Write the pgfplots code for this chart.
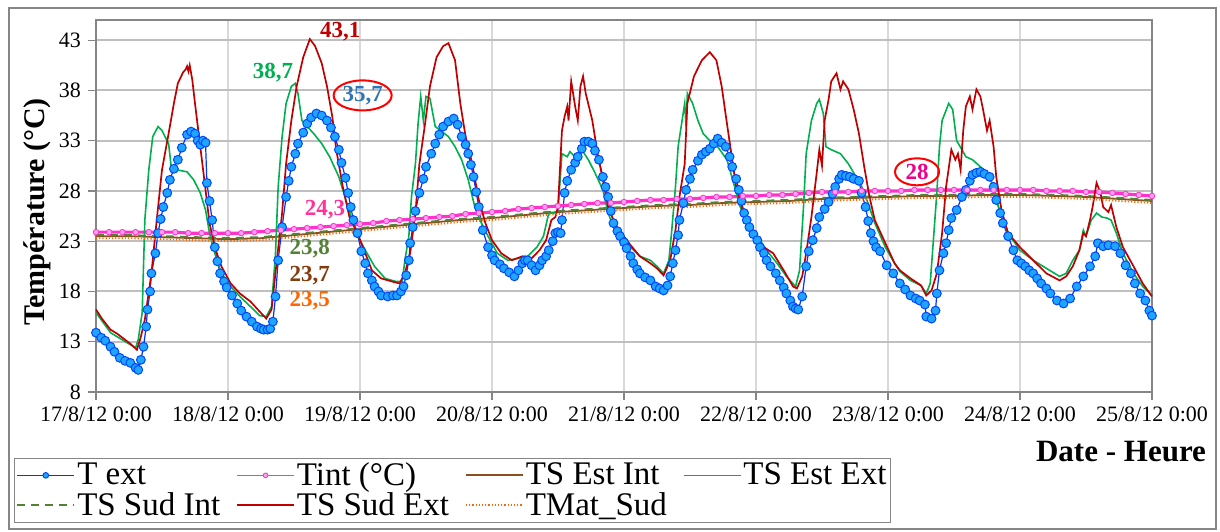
\documentclass[border=0pt]{standalone}
\usepackage{fontspec}
\setmainfont{Liberation Serif}
\usepackage{pgfplots}
\pgfplotsset{compat=1.18}
\usetikzlibrary{shapes.geometric}
\definecolor{textline}{RGB}{0,51,255}
\definecolor{textfill}{RGB}{30,165,255}
\definecolor{textmark}{RGB}{0,70,255}
\definecolor{tintc}{RGB}{255,51,204}
\definecolor{tintfill}{RGB}{255,160,240}
\definecolor{estint}{RGB}{140,80,30}
\definecolor{estext}{RGB}{0,176,80}
\definecolor{sudint}{RGB}{84,130,53}
\definecolor{sudext}{RGB}{192,0,0}
\definecolor{tmat}{RGB}{255,102,0}
\definecolor{gridh}{RGB}{191,191,191}
\definecolor{gridv}{RGB}{217,217,217}
\definecolor{axisc}{RGB}{134,134,134}
\definecolor{annblue}{RGB}{46,117,182}
\definecolor{annpink}{RGB}{255,51,153}
\definecolor{annbrown}{RGB}{132,60,12}
\begin{document}
\begin{tikzpicture}
\begin{axis}[name=ax, scale only axis, width=528pt, height=186pt,
  xmin=0, xmax=8, ymin=8, ymax=45, clip=false,
  xtick={0,...,8},
  xticklabels={17/8/12 0:00,18/8/12 0:00,19/8/12 0:00,20/8/12 0:00,21/8/12 0:00,22/8/12 0:00,23/8/12 0:00,24/8/12 0:00,25/8/12 0:00},
  ytick={8,13,...,43},
  grid=major,
  y grid style={color=gridh, line width=1pt},
  x grid style={color=gridv, line width=0.6pt},
  axis line style={color=axisc, line width=0.8pt},
  tick style={color=axisc, line width=0.6pt},
  tick align=outside, major tick length=4pt,
  xtick pos=bottom, ytick pos=left,
  ticklabel style={font=\fontsize{11}{13}\selectfont},
  /pgf/number format/assume math mode=true,
  xlabel={Date - Heure},
  xlabel style={at={(axis description cs:1.0578,-0.161)}, anchor=east, font=\bfseries\fontsize{15.5}{18}\selectfont},
  ylabel={Température (°C)},
  ylabel style={at={(axis description cs:-0.0559,0.484)}, anchor=center, font=\bfseries\fontsize{15}{18}\selectfont},
  legend columns=4, legend cell align=left,
  legend style={at={(axis description cs:-0.0777,-0.1774)}, anchor=north west, draw=axisc,
    font=\fontsize{16.5}{18}\selectfont, inner sep=1pt, nodes={inner sep=1pt},
    /tikz/every even column/.append style={column sep=7pt}},
  legend image code/.code={\draw[mark repeat=2,mark phase=2] plot coordinates {(0cm,0cm)(0.5cm,0cm)(1cm,0cm)};},
]
% T ext
\addplot[color=textline, line width=0.6pt, mark=*, mark size=2.2pt, mark options={fill=textfill, draw=textmark, line width=0.5pt}, legend image post style={mark size=1.4pt}] coordinates {
(0.00,13.9)(0.04,13.4)(0.07,13.1)(0.11,12.5)(0.14,12.0)(0.18,11.4)(0.22,11.1)(0.26,10.9)(0.30,10.4)(0.32,10.2)
(0.34,11.2)(0.36,12.5)(0.38,14.5)(0.39,16.2)(0.41,18.0)(0.42,19.8)(0.45,21.8)(0.47,23.8)(0.49,25.2)(0.51,26.4)
(0.54,27.8)(0.56,29.1)(0.59,30.2)(0.62,31.1)(0.65,32.3)(0.69,33.6)(0.72,33.9)(0.75,33.7)(0.77,33.0)(0.79,32.6)
(0.81,33.0)(0.83,32.8)(0.84,28.8)(0.86,27.0)(0.88,25.1)(0.90,22.4)(0.92,21.0)(0.94,19.8)(0.97,19.0)(0.99,18.4)
(1.03,17.6)(1.07,16.8)(1.10,16.1)(1.14,15.5)(1.18,15.0)(1.22,14.5)(1.25,14.3)(1.27,14.2)(1.30,14.2)(1.32,14.3)
(1.34,15.0)(1.36,17.5)(1.38,21.1)(1.41,24.4)(1.44,27.4)(1.46,29.0)(1.48,30.4)(1.51,31.7)(1.53,32.7)(1.57,33.8)
(1.60,34.7)(1.63,35.3)(1.67,35.7)(1.71,35.5)(1.75,35.0)(1.78,34.3)(1.81,33.4)(1.84,32.1)(1.86,30.8)(1.89,29.3)
(1.91,27.8)(1.93,26.4)(1.95,25.1)(1.98,23.8)(2.01,22.0)(2.04,20.8)(2.06,19.8)(2.09,19.1)(2.11,18.5)(2.14,18.0)
(2.16,17.6)(2.21,17.5)(2.25,17.6)(2.28,17.6)(2.31,18.0)(2.33,18.5)(2.35,19.6)(2.37,21.1)(2.38,22.8)(2.40,24.4)
(2.42,26.0)(2.45,27.8)(2.48,29.2)(2.50,30.4)(2.54,31.7)(2.57,32.7)(2.60,33.6)(2.63,34.4)(2.67,34.9)(2.71,35.2)
(2.74,34.6)(2.77,33.4)(2.80,32.6)(2.82,31.7)(2.84,30.6)(2.86,29.4)(2.88,27.9)(2.90,26.4)(2.93,24.1)(2.97,22.4)
(3.00,21.6)(3.02,21.1)(3.06,20.7)(3.09,20.3)(3.13,19.9)(3.17,19.5)(3.20,20.1)(3.23,20.8)(3.25,21.1)(3.27,21.1)
(3.30,20.6)(3.33,20.1)(3.36,20.6)(3.38,21.1)(3.41,21.5)(3.43,22.1)(3.46,23.0)(3.48,23.8)(3.50,23.9)(3.52,23.8)
(3.53,25.1)(3.55,27.8)(3.57,29.0)(3.60,30.1)(3.63,30.8)(3.65,31.4)(3.68,32.2)(3.70,32.9)(3.73,32.9)(3.76,32.7)
(3.78,32.0)(3.81,31.1)(3.84,29.4)(3.86,28.4)(3.88,27.4)(3.90,26.0)(3.92,24.8)(3.95,24.0)(3.97,23.5)(4.00,22.9)
(4.02,22.3)(4.05,21.5)(4.07,20.8)(4.10,20.2)(4.12,19.8)(4.16,19.4)(4.20,19.1)(4.24,18.5)(4.27,18.3)(4.30,18.1)
(4.33,18.6)(4.35,19.5)(4.37,20.8)(4.39,22.1)(4.41,23.6)(4.42,25.1)(4.45,26.8)(4.47,28.1)(4.50,29.2)(4.52,30.1)
(4.56,31.0)(4.59,31.6)(4.62,31.9)(4.65,32.2)(4.68,32.7)(4.71,33.2)(4.74,32.8)(4.77,32.4)(4.80,31.4)(4.82,30.4)
(4.85,29.2)(4.87,28.1)(4.89,27.0)(4.91,25.8)(4.93,25.1)(4.95,24.4)(4.98,23.7)(5.01,23.1)(5.03,22.4)(5.06,21.8)
(5.08,21.1)(5.11,20.5)(5.15,19.8)(5.18,19.1)(5.21,18.4)(5.23,17.8)(5.26,17.1)(5.28,16.5)(5.30,16.3)(5.32,16.2)
(5.35,17.5)(5.38,20.5)(5.40,22.0)(5.43,23.1)(5.46,24.3)(5.48,25.4)(5.52,26.2)(5.55,26.9)(5.58,27.7)(5.60,28.4)
(5.63,29.2)(5.65,29.6)(5.68,29.5)(5.71,29.4)(5.74,29.2)(5.78,29.0)(5.80,27.8)(5.83,26.4)(5.85,25.0)(5.87,23.8)
(5.89,23.0)(5.91,22.4)(5.94,22.0)(5.99,20.6)(6.04,19.8)(6.09,18.8)(6.13,18.2)(6.17,17.6)(6.21,17.3)(6.24,17.1)
(6.28,16.7)(6.29,15.5)(6.33,15.3)(6.36,16.1)(6.37,17.8)(6.39,20.1)(6.42,21.8)(6.44,22.8)(6.46,24.1)(6.48,25.3)
(6.52,26.1)(6.56,27.4)(6.59,28.1)(6.62,29.0)(6.64,29.6)(6.67,29.8)(6.70,29.9)(6.73,29.7)(6.77,29.4)(6.80,28.4)
(6.82,27.1)(6.85,25.8)(6.87,24.8)(6.91,23.5)(6.95,22.1)(6.98,21.1)(7.01,20.8)(7.04,20.5)(7.07,20.1)(7.10,19.8)
(7.13,19.3)(7.16,18.8)(7.20,18.3)(7.23,17.8)(7.28,17.1)(7.33,16.8)(7.38,17.3)(7.43,18.5)(7.48,19.5)(7.53,20.5)
(7.57,21.5)(7.59,22.8)(7.63,22.5)(7.67,22.6)(7.72,22.5)(7.76,21.8)(7.80,20.6)(7.84,19.8)(7.87,18.8)(7.91,17.8)
(7.95,17.1)(7.98,16.1)(8.00,15.6)
};
\addlegendentry{T ext}
% Tint
\addplot[color=tintc, line width=1.6pt, mark=*, mark size=1.4pt, mark options={fill=tintfill, draw=tintc, line width=0.4pt}, legend image post style={line width=0.6pt, mark size=1.2pt}] coordinates {
(0.0,23.9)(0.1,23.9)(0.2,23.9)(0.3,23.9)(0.4,23.9)(0.5,23.9)(0.6,23.9)(0.7,23.8)(0.8,23.8)(0.9,23.8)
(1.0,23.8)(1.1,23.8)(1.2,23.9)(1.3,24.0)(1.4,24.1)(1.5,24.2)(1.6,24.3)(1.7,24.4)(1.8,24.5)(1.9,24.6)
(2.0,24.7)(2.1,24.8)(2.2,25.0)(2.3,25.1)(2.4,25.2)(2.5,25.3)(2.6,25.4)(2.7,25.5)(2.8,25.7)(2.9,25.8)
(3.0,25.9)(3.1,26.0)(3.2,26.2)(3.3,26.3)(3.4,26.4)(3.5,26.5)(3.6,26.6)(3.7,26.7)(3.8,26.8)(3.9,26.8)
(4.0,26.9)(4.1,27.0)(4.2,27.1)(4.3,27.1)(4.4,27.2)(4.5,27.2)(4.6,27.3)(4.7,27.4)(4.8,27.4)(4.9,27.5)
(5.0,27.5)(5.1,27.6)(5.2,27.6)(5.3,27.7)(5.4,27.8)(5.5,27.9)(5.6,27.9)(5.7,27.9)(5.8,28.0)(5.9,28.0)
(6.0,28.0)(6.1,28.0)(6.2,28.1)(6.3,28.1)(6.4,28.1)(6.5,28.1)(6.6,28.1)(6.7,28.1)(6.8,28.1)(6.9,28.1)
(7.0,28.1)(7.1,28.1)(7.2,28.0)(7.3,28.0)(7.4,28.0)(7.5,27.9)(7.6,27.9)(7.7,27.8)(7.8,27.7)(7.9,27.6)
(8.0,27.5)
};
\addlegendentry{Tint (°C)}
% TS Est Int
\addplot[color=estint, line width=0.9pt] coordinates {
(0,23.5)(0.25,23.5)(0.5,23.4)(0.75,23.3)(1,23.2)(1.25,23.3)(1.5,23.6)(1.75,23.9)(2,24.2)(2.25,24.5)(2.5,24.8)
(2.75,25.1)(3,25.3)(3.25,25.6)(3.5,25.9)(3.75,26.1)(4,26.3)(4.25,26.5)(4.5,26.6)(4.75,26.8)(5,26.9)(5.25,27.0)
(5.5,27.2)(5.75,27.3)(6,27.4)(6.25,27.5)(6.5,27.5)(6.75,27.6)(7,27.6)(7.25,27.5)(7.5,27.4)(7.75,27.2)(8,27.0)
};
\addlegendentry{TS Est Int}
% TS Est Ext
\addplot[color=estext, line width=0.8pt] coordinates {
(0.00,15.9)(0.11,13.9)(0.21,13.1)(0.30,12.4)(0.32,13.2)(0.35,15.9)(0.37,25.1)(0.40,30.1)(0.43,33.4)(0.47,34.4)
(0.50,34.0)(0.55,32.7)(0.57,30.4)(0.61,30.1)(0.69,29.9)(0.74,29.1)(0.79,27.8)(0.83,26.1)(0.86,23.8)(0.90,21.8)
(0.95,19.8)(1.02,18.5)(1.09,17.5)(1.17,16.5)(1.24,15.6)(1.29,15.5)(1.33,16.5)(1.36,21.8)(1.38,28.4)(1.41,33.4)
(1.44,36.7)(1.48,38.4)(1.51,38.7)(1.53,37.7)(1.56,35.0)(1.60,34.4)(1.65,33.7)(1.71,32.7)(1.77,31.4)(1.84,29.4)
(1.90,26.8)(1.95,24.8)(2.00,23.1)(2.04,22.1)(2.11,20.5)(2.19,19.3)(2.27,19.0)(2.32,19.0)(2.34,21.1)(2.37,23.5)
(2.39,27.4)(2.42,30.7)(2.44,34.7)(2.46,37.4)(2.48,35.0)(2.50,37.4)(2.53,37.2)(2.57,34.4)(2.62,33.9)(2.67,33.4)
(2.72,32.4)(2.77,31.1)(2.82,29.1)(2.87,26.4)(2.92,24.8)(2.97,23.5)(3.04,21.8)(3.12,21.1)(3.20,21.3)(3.27,21.5)
(3.34,22.4)(3.39,23.5)(3.43,25.8)(3.47,25.8)(3.50,26.1)(3.53,31.7)(3.57,31.4)(3.59,31.9)(3.63,31.4)(3.68,32.1)
(3.73,31.1)(3.78,29.8)(3.84,28.1)(3.88,25.8)(3.93,24.1)(3.99,23.1)(4.05,22.4)(4.12,21.5)(4.20,21.1)(4.25,20.5)
(4.30,19.8)(4.34,21.1)(4.36,23.8)(4.39,28.4)(4.41,32.4)(4.44,35.0)(4.46,36.7)(4.47,34.4)(4.48,37.7)(4.52,36.7)
(4.56,35.0)(4.60,33.7)(4.65,33.0)(4.71,32.4)(4.78,31.1)(4.83,28.8)(4.88,26.4)(4.94,24.8)(5.01,23.5)(5.08,22.1)
(5.16,20.8)(5.23,19.5)(5.30,18.5)(5.33,20.1)(5.36,26.4)(5.38,31.7)(5.42,35.0)(5.46,36.7)(5.48,37.1)(5.51,35.7)
(5.53,32.4)(5.57,32.1)(5.64,31.7)(5.70,30.7)(5.74,29.8)(5.79,28.8)(5.84,27.1)(5.90,24.8)(5.98,22.4)(6.05,20.8)
(6.09,20.0)(6.17,19.1)(6.25,18.6)(6.29,17.8)(6.32,18.8)(6.34,22.4)(6.37,27.8)(6.39,32.4)(6.41,35.0)(6.46,36.7)
(6.49,36.1)(6.52,33.0)(6.56,32.1)(6.59,31.4)(6.64,31.1)(6.70,30.4)(6.75,29.8)(6.80,28.4)(6.85,25.8)(6.91,23.8)
(7.00,22.1)(7.10,21.1)(7.20,20.3)(7.30,19.5)(7.35,19.8)(7.40,21.1)(7.45,22.1)(7.48,24.1)(7.50,23.5)(7.54,25.1)
(7.58,25.8)(7.62,25.4)(7.66,25.3)(7.69,25.1)(7.73,23.8)(7.78,21.8)(7.86,19.8)(7.93,18.5)(8.00,17.6)
};
\addlegendentry{TS Est Ext}
% TS Sud Int
\addplot[color=sudint, line width=1pt, dash pattern=on 4pt off 3pt] coordinates {
(0,23.6)(0.25,23.6)(0.5,23.5)(0.75,23.4)(1,23.3)(1.25,23.4)(1.5,23.7)(1.75,24.0)(2,24.3)(2.25,24.6)(2.5,24.9)
(2.75,25.2)(3,25.4)(3.25,25.7)(3.5,26.0)(3.75,26.2)(4,26.4)(4.25,26.6)(4.5,26.7)(4.75,26.9)(5,27.0)(5.25,27.1)
(5.5,27.3)(5.75,27.4)(6,27.5)(6.25,27.6)(6.5,27.6)(6.75,27.7)(7,27.7)(7.25,27.6)(7.5,27.5)(7.75,27.3)(8,27.1)
};
\addlegendentry{TS Sud Int}
% TS Sud Ext
\addplot[color=sudext, line width=0.85pt] coordinates {
(0.00,16.2)(0.05,15.2)(0.11,14.2)(0.16,13.8)(0.21,13.3)(0.26,12.8)(0.31,12.2)(0.34,13.5)(0.37,15.2)(0.42,19.8)
(0.46,25.1)(0.50,30.1)(0.55,33.7)(0.59,36.7)(0.62,38.7)(0.66,39.8)(0.68,40.1)(0.69,40.4)(0.70,39.9)(0.71,40.5)
(0.73,39.0)(0.75,36.7)(0.79,32.4)(0.83,28.1)(0.86,24.8)(0.90,22.4)(0.95,20.5)(1.02,18.8)(1.09,17.8)(1.17,17.0)
(1.24,16.0)(1.29,15.3)(1.33,16.2)(1.37,21.1)(1.41,25.8)(1.44,30.7)(1.48,35.0)(1.52,38.4)(1.57,41.3)(1.62,43.1)
(1.66,42.4)(1.71,40.7)(1.75,38.4)(1.79,35.4)(1.82,32.1)(1.87,28.4)(1.92,25.4)(1.98,23.8)(2.04,21.8)(2.09,20.1)
(2.16,19.3)(2.24,19.0)(2.30,18.8)(2.34,19.8)(2.38,21.8)(2.42,25.8)(2.45,30.7)(2.49,34.4)(2.53,38.4)(2.58,41.3)
(2.63,42.4)(2.67,42.7)(2.72,41.0)(2.76,36.7)(2.80,33.4)(2.85,30.7)(2.90,27.1)(2.95,24.8)(3.00,23.1)(3.07,21.8)
(3.15,21.1)(3.23,21.5)(3.30,21.3)(3.36,22.1)(3.41,23.1)(3.45,25.1)(3.48,25.4)(3.50,26.4)(3.53,34.0)(3.55,35.4)
(3.57,36.4)(3.58,35.0)(3.60,38.9)(3.63,36.4)(3.65,35.0)(3.67,38.4)(3.69,39.4)(3.71,37.7)(3.76,35.0)(3.80,31.7)
(3.84,29.1)(3.88,26.4)(3.93,24.8)(3.98,23.8)(4.05,22.6)(4.12,21.5)(4.20,20.8)(4.25,20.3)(4.30,19.6)(4.35,21.1)
(4.39,24.1)(4.42,27.4)(4.46,30.7)(4.48,36.7)(4.53,39.4)(4.59,41.0)(4.65,41.8)(4.70,41.0)(4.74,38.4)(4.78,34.7)
(4.82,31.1)(4.85,28.4)(4.90,26.1)(4.98,23.8)(5.06,22.4)(5.13,21.8)(5.21,20.1)(5.28,18.5)(5.31,18.3)(5.35,19.5)
(5.38,21.8)(5.42,25.4)(5.46,29.8)(5.48,32.1)(5.50,30.5)(5.52,35.0)(5.55,37.1)(5.57,38.9)(5.61,39.7)(5.64,38.1)
(5.66,38.9)(5.70,38.1)(5.74,36.1)(5.78,33.7)(5.82,30.4)(5.86,27.4)(5.90,25.1)(5.98,22.8)(6.05,20.8)(6.09,20.1)
(6.17,19.3)(6.25,18.6)(6.29,17.6)(6.33,18.1)(6.37,19.8)(6.41,23.8)(6.44,28.4)(6.48,32.1)(6.51,31.1)(6.53,31.7)
(6.55,30.1)(6.57,34.0)(6.59,36.4)(6.62,37.4)(6.64,36.1)(6.67,38.1)(6.70,37.4)(6.72,36.1)(6.75,34.0)(6.77,35.0)
(6.80,32.4)(6.82,29.4)(6.86,26.1)(6.91,23.8)(7.00,22.4)(7.10,21.1)(7.20,19.8)(7.30,19.1)(7.35,19.5)(7.40,20.5)
(7.45,22.1)(7.48,23.8)(7.50,23.5)(7.53,25.1)(7.55,26.4)(7.58,28.8)(7.61,27.8)(7.63,26.4)(7.67,25.9)(7.69,26.6)
(7.73,24.4)(7.78,22.4)(7.86,20.5)(7.93,18.8)(8.00,17.5)
};
\addlegendentry{TS Sud Ext}
% TMat_Sud
\addplot[color=tmat, line width=0.9pt, dash pattern=on 0.6pt off 1pt] coordinates {
(0,23.3)(0.25,23.3)(0.5,23.2)(0.75,23.1)(1,23.0)(1.25,23.1)(1.5,23.4)(1.75,23.7)(2,24.0)(2.25,24.3)(2.5,24.6)
(2.75,24.9)(3,25.1)(3.25,25.4)(3.5,25.7)(3.75,25.9)(4,26.1)(4.25,26.3)(4.5,26.4)(4.75,26.6)(5,26.7)(5.25,26.8)
(5.5,27.0)(5.75,27.1)(6,27.2)(6.25,27.3)(6.5,27.3)(6.75,27.4)(7,27.4)(7.25,27.3)(7.5,27.2)(7.75,27.0)(8,26.8)
};
\addlegendentry{TMat\_Sud}
% annotations
\node[text=sudext, font=\bfseries\fontsize{11.5}{13}\selectfont] at (axis cs:1.85,43.8) {43,1};
\node[text=estext, font=\bfseries\fontsize{11.5}{13}\selectfont] at (axis cs:1.34,39.8) {38,7};
\node[text=annblue, draw=red, line width=1pt, ellipse, inner sep=0.2pt, minimum width=28pt, minimum height=15pt, font=\bfseries\fontsize{11.5}{13}\selectfont] at (axis cs:2.02,37.5) {35,7};
\node[text=annpink, font=\bfseries\fontsize{11.5}{13}\selectfont] at (axis cs:1.735,26.1) {24,3};
\node[text=sudint, font=\bfseries\fontsize{11.5}{13}\selectfont] at (axis cs:1.62,22.3) {23,8};
\node[text=annbrown, font=\bfseries\fontsize{11.5}{13}\selectfont] at (axis cs:1.62,19.6) {23,7};
\node[text=tmat, font=\bfseries\fontsize{11.5}{13}\selectfont] at (axis cs:1.62,17.1) {23,5};
\node[text=magenta, draw=red, line width=1pt, ellipse, inner sep=0.2pt, minimum width=22pt, minimum height=13.5pt, font=\bfseries\fontsize{11.5}{13}\selectfont] at (axis cs:6.22,29.9) {28};
\end{axis}
\path ([shift={(-48pt,-69.5pt)}]ax.south west) rectangle ([shift={(562pt,196pt)}]ax.south west);
\draw[color=axisc, line width=0.8pt] ([shift={(-43.5pt,-68.5pt)}]ax.south west) rectangle ([shift={(560pt,192pt)}]ax.south west);
\end{tikzpicture}
\end{document}
